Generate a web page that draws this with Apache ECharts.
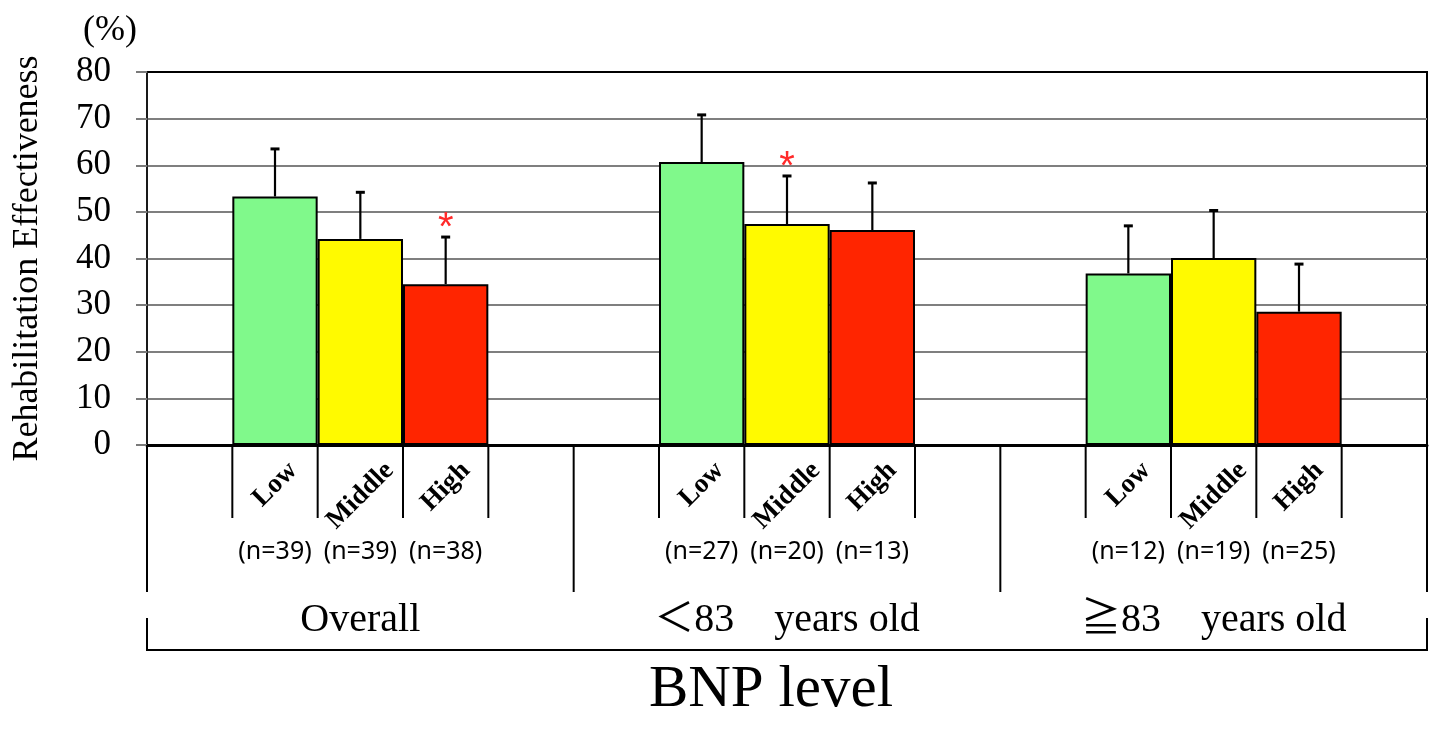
<!DOCTYPE html>
<html>
<head>
<meta charset="utf-8">
<script src="https://cdn.jsdelivr.net/npm/echarts@6.0.0/dist/echarts.min.js"></script>
<style>
html,body{margin:0;padding:0;background:#fff}
#chart{width:1434px;height:730px}
</style>
</head>
<body>
<div id="chart"></div>
<script>
// ---- data ----
const groupLabels = ['Overall', '\uFF1C83\u3000years old', '\u226783\u3000years old'];
const levelLabels = ['Low', 'Middle', 'High'];
const lowValues = [53.3, 60.7, 36.8];
const middleValues = [44.2, 47.4, 40.1];
const highValues = [34.5, 46.1, 28.6];
const lowErr = [10.2, 10.1, 10.2];
const middleErr = [10.0, 10.3, 10.2];
const highErr = [10.1, 10.1, 10.2];
const lowN = [39, 27, 12];
const middleN = [39, 20, 19];
const highN = [38, 13, 25];
const lowSig = [false, false, false];
const middleSig = [false, true, false];
const highSig = [true, false, false];
const yTicks = [0, 10, 20, 30, 40, 50, 60, 70, 80];

// ---- styles ----
const levelColors = ['#80F98B', '#FFFA00', '#FF2500'];
const serif = '"Liberation Serif", "Times New Roman", serif';
const cjkSerif = '"Liberation Serif", "Noto Sans CJK JP", serif';

const levelValues = [lowValues, middleValues, highValues];
const levelErrs = [lowErr, middleErr, highErr];
const levelNs = [lowN, middleN, highN];
const levelSigs = [lowSig, middleSig, highSig];

const errorData = [];
groupLabels.forEach((_, g) => {
  levelLabels.forEach((_, i) => {
    errorData.push([g, i, levelValues[i][g], levelErrs[i][g], levelSigs[i][g] ? 1 : 0]);
  });
});
const tableData = groupLabels.map((_, g) => [g, 0]);

const measureCtx = document.createElement('canvas').getContext('2d');
function textWidth(t, font) { measureCtx.font = font; return measureCtx.measureText(t).width; }

const BAR_FRAC = 0.2;

function renderErrors(params, api) {
  const g = api.value(0), i = api.value(1), v = api.value(2), e = api.value(3), sig = api.value(4);
  const band = api.size([1, 0])[0];
  const barW = band * BAR_FRAC;
  const base = api.coord([g, v]);
  const top = api.coord([g, v + e]);
  const x = base[0] + (i - 1) * barW;
  const st = { stroke: '#000', lineWidth: 2.2 };
  const children = [
    { type: 'line', shape: { x1: x, y1: base[1], x2: x, y2: top[1] }, style: st },
    { type: 'line', shape: { x1: x - 4.5, y1: top[1], x2: x + 4.5, y2: top[1] }, style: { stroke: '#000', lineWidth: 3 } }
  ];
  if (sig) {
    children.push({ type: 'text', x: x, y: top[1] - 8, style: {
      text: '*', fill: '#FF2a2a', font: '40px "Liberation Sans", Arial, sans-serif', align: 'center', verticalAlign: 'middle' } });
  }
  return { type: 'group', children };
}

function renderTable(params, api) {
  const g = api.value(0);
  const band = api.size([1, 0])[0];
  const p = api.coord([g, 0]);
  const cx = p[0], y0 = p[1];
  const barW = band * BAR_FRAC;
  const left = cx - band / 2, right = cx + band / 2;
  const st = { stroke: '#000', lineWidth: 2 };
  const children = [];
  for (let k = 0; k < 4; k++) {
    const x = cx + (k - 1.5) * barW;
    children.push({ type: 'line', shape: { x1: x, y1: y0, x2: x, y2: y0 + 73 }, style: st });
  }
  children.push({ type: 'line', shape: { x1: left, y1: y0, x2: left, y2: y0 + 147 }, style: st });
  if (g === groupLabels.length - 1) {
    children.push({ type: 'line', shape: { x1: right, y1: y0, x2: right, y2: y0 + 147 }, style: st });
    children.push({ type: 'line', shape: { x1: right, y1: y0 + 173, x2: right, y2: y0 + 205 }, style: st });
  }
  if (g === 0) {
    children.push({ type: 'line', shape: { x1: left, y1: y0 + 173, x2: left, y2: y0 + 205 }, style: st });
  }
  children.push({ type: 'line', shape: { x1: left - 1, y1: y0 + 205, x2: right + 1, y2: y0 + 205 }, style: st });

  const lvFont = 'bold 27px ' + serif;
  levelLabels.forEach((lv, i) => {
    const x = cx + (i - 1) * barW;
    const L = textWidth(lv, lvFont);
    const cy = y0 + 12 + (L / 2 + 13.5) * Math.SQRT1_2;
    children.push({ type: 'text', x: x, y: cy, rotation: Math.PI / 4, style: {
      text: lv, font: lvFont, fill: '#000', align: 'center', verticalAlign: 'middle' } });
    children.push({ type: 'text', x: x, y: y0 + 107, style: {
      text: '(n=' + levelNs[i][g] + ')', font: '25px "Noto Sans", sans-serif', fill: '#000', align: 'center', verticalAlign: 'middle' } });
  });
  children.push({ type: 'text', x: cx, y: y0 + 175, style: {
    text: groupLabels[g], font: '40px ' + cjkSerif, fill: '#000', align: 'center', verticalAlign: 'middle' } });
  return { type: 'group', children };
}

const chart = echarts.init(document.getElementById('chart'), null, { renderer: 'canvas' });
chart.setOption({
  animation: false,
  backgroundColor: '#fff',
  grid: { left: 147, right: 7, top: 72, bottom: 285, show: true, borderColor: '#000', borderWidth: 2, backgroundColor: 'transparent' },
  graphic: [
    { type: 'text', x: 110, y: 31, style: { text: '(%)', font: '36px ' + serif, fill: '#000', align: 'center', verticalAlign: 'middle' } },
    { type: 'text', x: 771, y: 690, style: { text: 'BNP level', font: '59px ' + serif, fill: '#000', align: 'center', verticalAlign: 'middle' } }
  ],
  xAxis: {
    type: 'category',
    data: groupLabels,
    axisLine: { show: true, lineStyle: { color: '#000', width: 3 } },
    axisTick: { show: false },
    axisLabel: { show: false },
    splitLine: { show: false }
  },
  yAxis: {
    type: 'value',
    min: yTicks[0], max: yTicks[yTicks.length - 1], interval: yTicks[1] - yTicks[0],
    name: 'Rehabilitation Effectiveness',
    nameLocation: 'middle',
    nameRotate: 90,
    nameGap: 101,
    nameTextStyle: { fontFamily: serif, fontSize: 36, color: '#000' },
    axisLine: { show: true, lineStyle: { color: '#222', width: 1.5 } },
    axisTick: { show: true, length: 11, lineStyle: { color: '#7a7a7a', width: 2 } },
    axisLabel: { fontFamily: serif, fontSize: 35, color: '#000', margin: 36 },
    splitLine: { show: true, showMaxLine: false, lineStyle: { color: '#7f7f7f', width: 2 } }
  },
  series: levelLabels.map((lv, i) => ({
    type: 'bar',
    name: lv,
    data: levelValues[i],
    barWidth: (BAR_FRAC * 100) + '%',
    barGap: '0%',
    itemStyle: { color: levelColors[i], borderColor: '#000', borderWidth: 2 },
    z: 2
  })).concat([
    { type: 'custom', name: 'error', data: errorData, renderItem: renderErrors, encode: { x: 0, y: 2 }, clip: false, z: 4, silent: true },
    { type: 'custom', name: 'table', data: tableData, renderItem: renderTable, encode: { x: 0, y: 1 }, clip: false, z: 4, silent: true }
  ])
});
</script>
</body>
</html>
